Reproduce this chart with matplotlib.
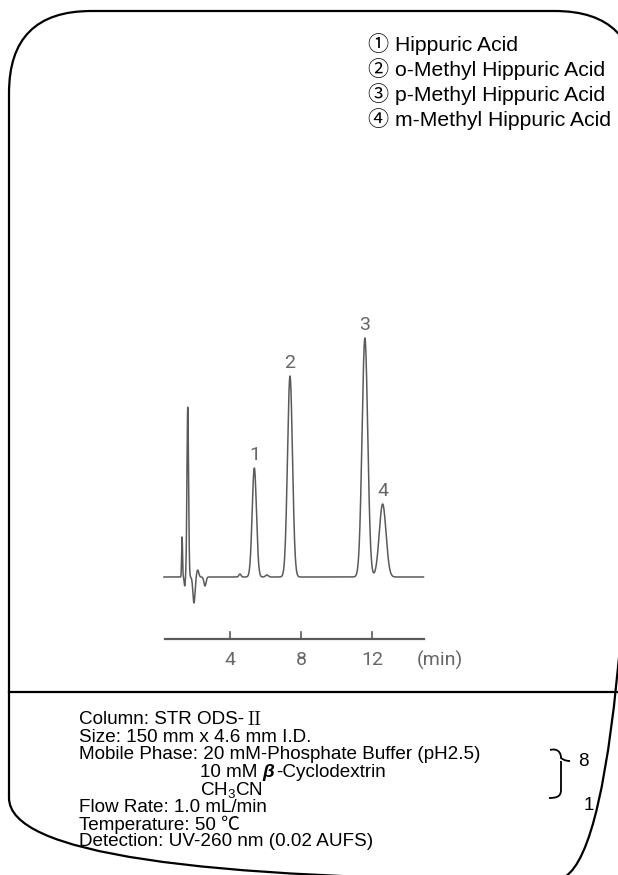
import matplotlib
matplotlib.use('Agg')
import matplotlib.pyplot as plt
import numpy as np
from matplotlib.patches import FancyBboxPatch
from matplotlib.path import Path
from matplotlib.patches import PathPatch

plt.rcParams['mathtext.fontset'] = 'custom'
plt.rcParams['mathtext.rm'] = 'Liberation Sans'
plt.rcParams['mathtext.it'] = 'Liberation Sans:italic'

# peaks (time in min, height in px above baseline, sigma in min)
peak_labels = ['1', '2', '3', '4']
peak_times = [5.37, 7.38, 11.60, 12.60]
peak_heights = [109, 201, 239, 73]
peak_sigmas = [0.12, 0.14, 0.16, 0.19]

# solvent front / injection disturbance
front_times = [1.30, 1.45, 1.62, 1.97, 2.18, 2.59, 4.56, 6.08]
front_heights = [40, -9, 170, -26, 7, -9, 3, 2]
front_sigmas = [0.025, 0.03, 0.045, 0.06, 0.06, 0.06, 0.06, 0.08]

t_start, t_end = 0.28, 14.9
axis_ticks = [4, 8, 12]

compounds = ['\u2460 Hippuric Acid', '\u2461 o-Methyl Hippuric Acid',
             '\u2462 p-Methyl Hippuric Acid', '\u2463 m-Methyl Hippuric Acid']

# each line is a list of (text, style) pieces
conditions = [[('Column: STR ODS-', 'n'), ('\u2161', 'serif')],
              [('Size: 150 mm x 4.6 mm I.D.', 'n')],
              [('Mobile Phase: 20 mM-Phosphate Buffer (pH2.5)', 'n')],
              [('10 mM ', 'n'), ('\u03b2', 'bi'), ('-Cyclodextrin', 'n')],
              [('CH$_3$CN', 'n')],
              [('Flow Rate: 1.0 mL/min', 'n')],
              [('Temperature: 50 \u2103', 'n')],
              [('Detection: UV-260 nm (0.02 AUFS)', 'n')]]
indent = [0, 0, 0, 1, 1, 0, 0, 0]
ratio = ['8', '1']

W, H = 618, 875
fig = plt.figure(figsize=(W / 100, H / 100), dpi=100)

# overlay in pixel coordinates for frame and text
bg = fig.add_axes([0, 0, 1, 1])
bg.set_xlim(0, W)
bg.set_ylim(H, 0)
bg.axis('off')
frame = FancyBboxPatch((9, 11), 628, 869, boxstyle='round,pad=0,rounding_size=82',
                       fill=False, ec='black', lw=1.6)
bg.add_patch(frame)
bg.plot([9, W], [692, 692], color='black', lw=1.6)

fam = ['Liberation Sans', 'Noto Sans CJK JP', 'DejaVu Sans']
for i, s in enumerate(compounds):
    bg.text(368, 44 + i * 25.0, s, fontsize=15.2, family=fam, va='center', ha='left')

styles = {'n': dict(family=fam),
          'bi': dict(family=fam, weight='bold', style='italic'),
          'serif': dict(family=['Noto Serif CJK JP', 'DejaVu Serif'])}
renderer = fig.canvas.get_renderer()
inv = bg.transData.inverted()
for i, pieces in enumerate(conditions):
    x = 200 if indent[i] else 79
    y = 720 + i * 17.4
    for txt, st in pieces:
        tt = bg.text(x, y, txt, fontsize=13.6, va='center', ha='left', **styles[st])
        bb = tt.get_window_extent(renderer)
        x = inv.transform((bb.x1, bb.y0))[0] + (2 if st != 'n' else 0)

# brace grouping buffer + cyclodextrin
verts = [(550, 750), (557, 748), (561, 752), (561, 758),
         (561, 758), (564, 761), (570, 761),
         (561, 761), (561, 767),
         (561, 790),
         (561, 797), (556, 798), (549, 798)]
codes = [Path.MOVETO, Path.CURVE4, Path.CURVE4, Path.CURVE4,
         Path.CURVE4, Path.CURVE4, Path.CURVE4,
         Path.MOVETO, Path.LINETO,
         Path.LINETO,
         Path.CURVE4, Path.CURVE4, Path.CURVE4]
bg.add_patch(PathPatch(Path(verts, codes), fill=False, ec='black', lw=1.3))
bg.text(578, 762, ratio[0], fontsize=13.6, family=fam, va='center', ha='left')
bg.text(584, 806, ratio[1], fontsize=13.6, family=fam, va='center', ha='left')

# chromatogram axes: 17.75 px per minute, 4 min at x=230, baseline at y=577
px_min = 17.75
x0, x1, y0, y1 = 150, 470, 300, 680
ax = fig.add_axes([x0 / W, 1 - y1 / H, (x1 - x0) / W, (y1 - y0) / H])
ax.set_xlim(4 - (230 - x0) / px_min, 4 + (x1 - 230) / px_min)
ax.set_ylim(-(y1 - 577), 577 - y0)
ax.axis('off')

t = np.linspace(t_start, t_end, 4000)
sig = np.zeros_like(t)
for tc, h, s in zip(front_times + peak_times, front_heights + peak_heights,
                    front_sigmas + peak_sigmas):
    sig += h * np.exp(-0.5 * ((t - tc) / s) ** 2)
gray = '#5a5a5a'
ax.plot(t, sig, color=gray, lw=1.1)

lab_font = dict(family=['Roboto', 'DejaVu Sans'], color='#666666', fontsize=14)
for lab, tc, h in zip(peak_labels, peak_times, peak_heights):
    ax.text(tc, h + 4, lab, ha='center', va='bottom', **lab_font)

# time axis
ay = -62
ax.plot([t_start + 0.05, t_end + 0.05], [ay, ay], color=gray, lw=1.6)
for tk in axis_ticks:
    ax.plot([tk, tk], [ay, ay + 7], color=gray, lw=1.2)
    ax.text(tk, ay - 21, str(tk), ha='center', va='center', **lab_font)
ax.text(15.85, ay - 21, '(min)', ha='center', va='center', **lab_font)

fig.savefig('out.png', dpi=100)
